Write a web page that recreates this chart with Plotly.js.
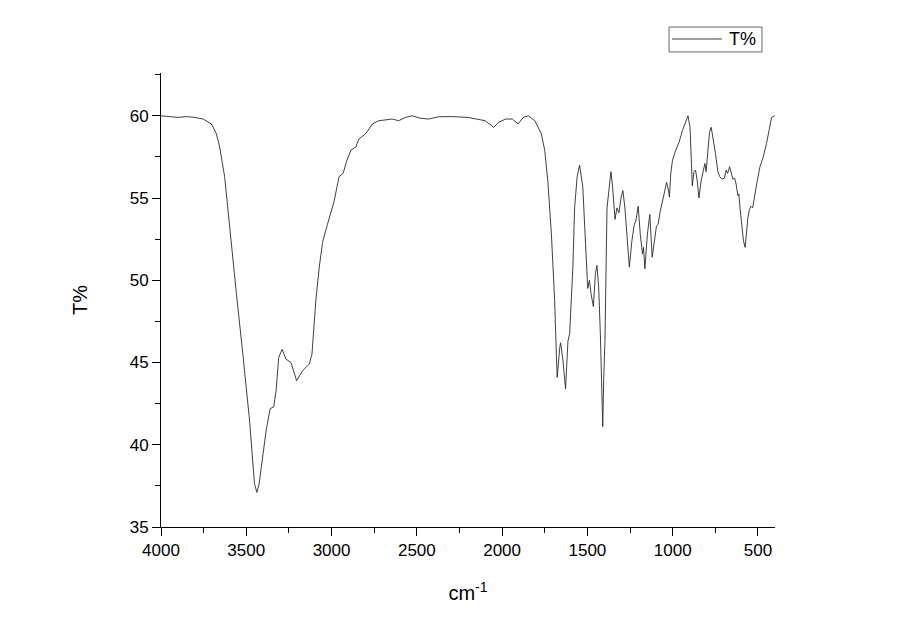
<!DOCTYPE html>
<html>
<head>
<meta charset="utf-8">
<script src="https://cdn.plot.ly/plotly-3.0.1.min.js"></script>
<style>
  body { margin: 0; background: #fff; }
  #chart { width: 900px; height: 632px; }
</style>
</head>
<body>
<div id="chart"></div>
<script>
// IR spectrum
const wavenumber = [
  4000, 3950, 3900, 3850, 3800, 3753, 3704, 3675, 3656, 3627, 3598, 3558, 3520, 3481,
  3452, 3438, 3425, 3413, 3383, 3360, 3339, 3325, 3310, 3290, 3267, 3238, 3205, 3170,
  3131, 3115, 3092, 3072, 3053, 3024, 2985, 2956, 2932, 2913, 2887, 2858, 2839, 2800,
  2761, 2722, 2645, 2606, 2567, 2528, 2479, 2431, 2372, 2300, 2200, 2100, 2050, 2020,
  1980, 1940, 1906, 1876, 1847, 1808, 1770, 1750, 1731, 1711, 1692, 1682, 1677, 1662,
  1657, 1643, 1628, 1614, 1604, 1585, 1575, 1560, 1546, 1527, 1517, 1508, 1498, 1488,
  1479, 1465, 1453, 1444, 1434, 1424, 1416, 1410, 1404, 1397, 1385, 1371, 1362, 1352,
  1338, 1327, 1315, 1303, 1292, 1280, 1268, 1254, 1239, 1225, 1216, 1202, 1190, 1182,
  1177, 1171, 1163, 1148, 1134, 1120, 1108, 1095, 1085, 1073, 1050, 1036, 1026, 1019,
  1011, 1001, 982, 962, 943, 924, 910, 898, 890, 885, 875, 866, 856, 846, 833, 821,
  811, 804, 794, 784, 774, 763, 749, 735, 724, 711, 697, 686, 678, 666, 656, 647, 637,
  628, 618, 612, 605, 595, 585, 575, 565, 559, 550, 540, 531, 518, 504, 488, 469, 450,
  434, 420, 402
];
const transmittance = [
  60.0, 59.95, 59.9, 59.95, 59.9, 59.8, 59.5, 58.9, 58.1, 56.3, 53.2, 49.2, 45.5, 41.5,
  37.65, 37.1, 37.6, 38.5, 40.9, 42.2, 42.3, 43.3, 45.3, 45.8, 45.2, 45.0, 43.9, 44.5,
  44.9, 45.5, 48.8, 50.8, 52.3, 53.4, 54.8, 56.3, 56.5, 57.2, 57.9, 58.1, 58.6, 58.9,
  59.5, 59.7, 59.8, 59.7, 59.9, 60.0, 59.85, 59.8, 59.94, 59.95, 59.9, 59.7, 59.3, 59.6,
  59.8, 59.8, 59.5, 59.9, 60.0, 59.7, 58.9, 57.9, 55.9, 52.8, 48.8, 45.5, 44.1, 45.9,
  46.2, 45.1, 43.4, 46.3, 46.75, 50.8, 54.4, 56.3, 57.0, 55.7, 53.6, 51.8, 49.5, 50.0,
  49.2, 48.4, 50.4, 50.9, 49.6, 46.75, 42.7, 41.1, 44.1, 46.3, 54.4, 55.9, 56.6, 55.65,
  53.7, 54.4, 54.1, 55.0, 55.45, 54.4, 52.8, 50.8, 52.4, 53.4, 53.6, 54.5, 52.8, 52.0,
  51.6, 52.0, 50.7, 52.8, 54.0, 51.4, 52.4, 53.3, 53.4, 54.2, 55.25, 55.95, 55.55, 55.05,
  56.5, 57.3, 57.9, 58.4, 59.1, 59.7, 60.0, 59.3, 57.5, 55.75, 56.6, 56.7, 56.05, 55.0,
  56.05, 56.7, 57.1, 56.6, 57.9, 59.0, 59.3, 58.7, 57.7, 56.6, 56.3, 56.15, 56.2, 56.7,
  56.5, 56.9, 56.4, 56.15, 56.2, 55.85, 55.15, 55.25, 54.4, 53.4, 52.4, 52.0, 53.2, 53.8,
  54.3, 54.5, 54.4, 55.25, 56.05, 56.9, 57.5, 58.3, 59.1, 59.9, 60.0
];
const xTicks = [4000, 3500, 3000, 2500, 2000, 1500, 1000, 500];
const yTicks = [35, 40, 45, 50, 55, 60];
const seriesName = "T%";

const FONT = "Liberation Sans, Arial, sans-serif";
const axisFont = { family: FONT, size: 17, color: "#000" };
const lineColor = "#2a2a2a";

const data = [
  {
    x: wavenumber,
    y: transmittance,
    type: "scatter",
    mode: "lines",
    name: seriesName,
    line: { color: lineColor, width: 0.9 },
  },
];

// legend drawn by hand so the box is as small as the reference one
const legendShapes = [
  {
    type: "rect", xref: "paper", yref: "paper",
    x0: 0.8274, x1: 0.9788, y0: 1.0463, y1: 1.1013,
    line: { color: "#666", width: 1 }, fillcolor: "#fff",
  },
  {
    type: "line", xref: "paper", yref: "paper",
    x0: 0.8322, x1: 0.9137, y0: 1.0749, y1: 1.0749,
    line: { color: lineColor, width: 0.9 },
  },
];

const layout = {
  width: 900,
  height: 632,
  paper_bgcolor: "#fff",
  plot_bgcolor: "#fff",
  margin: { l: 161, r: 125, t: 73, b: 105 },
  showlegend: false,
  shapes: legendShapes,
  annotations: [
    {
      xref: "paper", yref: "paper",
      x: 0.922, y: 1.0749,
      xanchor: "left", yanchor: "middle",
      text: seriesName,
      showarrow: false,
      font: { family: FONT, size: 18, color: "#000" },
    },
  ],
  xaxis: {
    range: [4000, 400],
    tickvals: xTicks,
    ticktext: xTicks.map(String),
    ticks: "outside",
    ticklen: 8,
    tickwidth: 1,
    tickcolor: "#000",
    minor: { dtick: 250, ticks: "outside", ticklen: 5, tickcolor: "#000", showgrid: false },
    showline: true,
    linecolor: "#000",
    linewidth: 1,
    showgrid: false,
    zeroline: false,
    tickfont: axisFont,
    title: {
      text: "cm<sup>-1</sup>",
      font: { family: FONT, size: 20, color: "#000" },
      standoff: 26,
    },
  },
  yaxis: {
    range: [35, 62.6],
    tickvals: yTicks,
    ticktext: yTicks.map(String),
    ticks: "outside",
    ticklen: 8,
    tickwidth: 1,
    tickcolor: "#000",
    minor: { dtick: 2.5, ticks: "outside", ticklen: 5, tickcolor: "#000", showgrid: false },
    showline: true,
    linecolor: "#000",
    linewidth: 1,
    showgrid: false,
    zeroline: false,
    tickfont: axisFont,
    title: {
      text: "T%",
      font: { family: FONT, size: 20, color: "#000" },
      standoff: 36,
    },
  },
};

Plotly.newPlot("chart", data, layout, { staticPlot: true, displayModeBar: false });
</script>
</body>
</html>
